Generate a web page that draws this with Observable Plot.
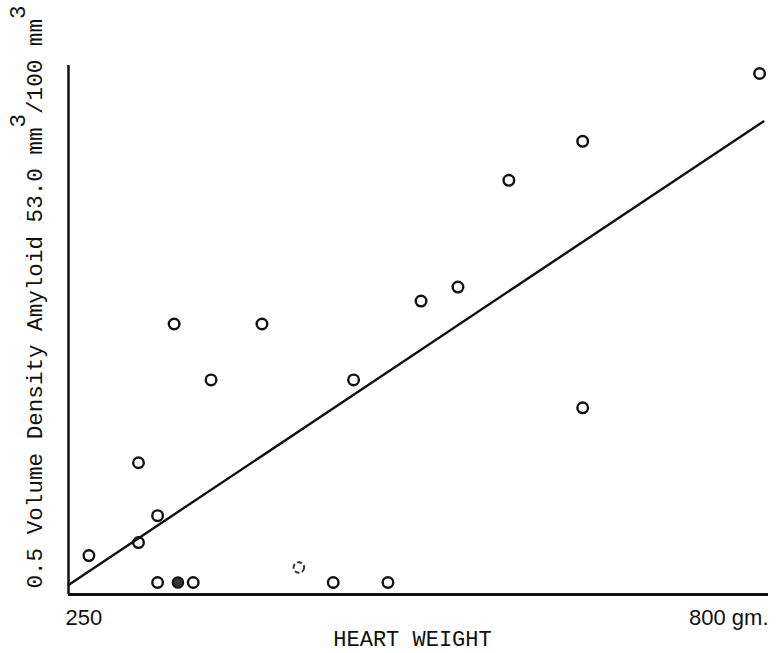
<!DOCTYPE html>
<html>
<head>
<meta charset="utf-8">
<script src="https://cdn.jsdelivr.net/npm/d3@7"></script>
<script src="https://cdn.jsdelivr.net/npm/@observablehq/plot@0.6"></script>
<style>
  html, body { margin: 0; padding: 0; background: #fff; }
  #chart svg { display: block; }
</style>
</head>
<body>
<div id="chart"></div>
<script>
// Heart weight (gm.) and amyloid volume density
const heartWeight = [266, 305, 305, 320, 320, 336, 348, 333, 362, 402, 431, 458, 474, 501, 527, 556, 596, 654, 654, 793];
const amyloid     = [3.9, 13.2, 5.2, 7.9, 1.2, 1.2, 1.2, 27.1, 21.5, 27.1, 2.7, 1.2, 21.5, 1.2, 29.4, 30.8, 41.5, 45.4, 18.7, 52.2];
const markerType  = ["open","open","open","open","open","filled","open","open","open","open","broken","open","open","open","open","open","open","open","open","open"];

// Fitted regression line end points
const fitX = [250, 796];
const fitY = [0.96, 47.4];

// Axis labels
const xTickLabels = [{x: 250, label: "250", anchor: "start"}, {x: 800, label: "800 gm.", anchor: "end"}];
const xTitle = "HEART WEIGHT";
const yTitleParts = ["0.5 Volume Density Amyloid 53.0 mm", "3", "/100 mm", "3"];

const points = heartWeight.map((w, i) => ({w, a: amyloid[i], t: markerType[i]}));
const fit = fitX.map((x, i) => ({x, y: fitY[i]}));

const mono = "'Liberation Mono', 'DejaVu Sans Mono', monospace";
const sans = "'Liberation Sans', Arial, sans-serif";

const plot = Plot.plot({
  width: 783,
  height: 653,
  marginLeft: 68,
  marginRight: 15,
  marginTop: 65,
  marginBottom: 59,
  x: {domain: [250, 800], axis: null},
  y: {domain: [0, 53], axis: null},
  style: {background: "#fff", color: "#111"},
  marks: [
    Plot.ruleX([250], {stroke: "#111", strokeWidth: 2.5}),
    Plot.ruleY([0], {stroke: "#111", strokeWidth: 3}),
    Plot.line(fit, {x: "x", y: "y", stroke: "#111", strokeWidth: 2.4}),
    Plot.dot(points.filter(d => d.t === "open"), {x: "w", y: "a", r: 5.3, stroke: "#111", strokeWidth: 2.4, fill: "none"}),
    Plot.dot(points.filter(d => d.t === "broken"), {x: "w", y: "a", r: 5.3, stroke: "#333", strokeWidth: 2, strokeDasharray: "5,2.5", fill: "none"}),
    Plot.dot(points.filter(d => d.t === "filled"), {x: "w", y: "a", r: 5.3, stroke: "#111", strokeWidth: 2, fill: "#333"}),
    Plot.text(xTickLabels.filter(d => d.anchor === "start"), {x: "x", y: () => 0, text: "label", textAnchor: "start", dx: -3, dy: 23, fontSize: 22, fontFamily: sans, fill: "#111"}),
    Plot.text(xTickLabels.filter(d => d.anchor === "end"), {x: "x", y: () => 0, text: "label", textAnchor: "end", dx: 0, dy: 23, fontSize: 22, fontFamily: sans, fill: "#111"}),
    Plot.text([xTitle], {frameAnchor: "bottom", dx: -6, dy: 51, fontSize: 22, fontFamily: mono, fill: "#111"}),
    Plot.text([yTitleParts.join("")], {frameAnchor: "bottom-left", dx: -27, dy: -6, rotate: -90, textAnchor: "start", fontSize: 22.6, fontFamily: mono, fill: "#111"})
  ]
});

// Render superscripts in the y title as raised tspans
d3.select(plot).selectAll("text").each(function() {
  const t = d3.select(this);
  if (this.textContent === yTitleParts.join("")) {
    t.text(null);
    t.append("tspan").text(yTitleParts[0]);
    t.append("tspan").attr("dy", "-0.75em").text(yTitleParts[1]);
    t.append("tspan").attr("dy", "0.75em").text(yTitleParts[2]);
    t.append("tspan").attr("dy", "-0.75em").text(yTitleParts[3]);
  }
});

document.getElementById("chart").append(plot);
</script>
</body>
</html>
